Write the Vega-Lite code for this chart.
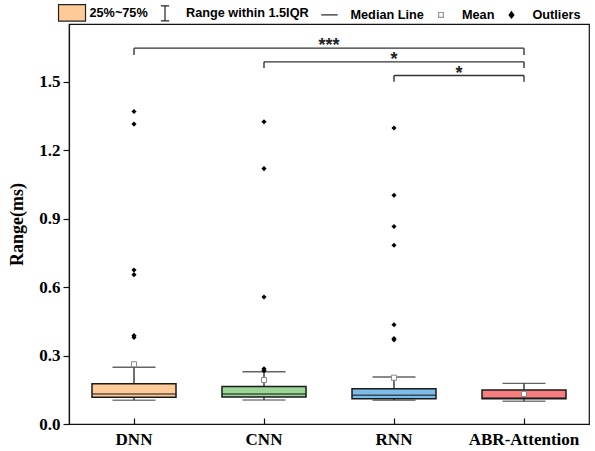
{
  "$schema": "https://vega.github.io/schema/vega-lite/v6.json",
  "autosize": "none",
  "width": 520,
  "height": 400,
  "padding": {"left": 69, "top": 24, "right": 6, "bottom": 27},
  "background": "white",
  "config": {
    "view": {"stroke": "#111", "strokeWidth": 1.2},
    "axis": {"grid": false, "domainColor": "#111", "tickColor": "#111", "labelColor": "#000", "titleColor": "#000"}
  },
  "datasets": {
    "boxes": [
      {"model": "DNN", "lo": 0.104, "q1": 0.117, "median": 0.132, "q3": 0.177, "hi": 0.249, "mean": 0.262},
      {"model": "CNN", "lo": 0.105, "q1": 0.118, "median": 0.132, "q3": 0.164, "hi": 0.229, "mean": 0.193},
      {"model": "RNN", "lo": 0.104, "q1": 0.111, "median": 0.126, "q3": 0.155, "hi": 0.206, "mean": 0.203},
      {"model": "ABR-Attention", "lo": 0.100, "q1": 0.111, "median": 0.114, "q3": 0.149, "hi": 0.178, "mean": 0.132}
    ],
    "outliers": [
      {"model": "DNN", "value": 1.370}, {"model": "DNN", "value": 1.315},
      {"model": "DNN", "value": 0.675}, {"model": "DNN", "value": 0.655},
      {"model": "DNN", "value": 0.388}, {"model": "DNN", "value": 0.380},
      {"model": "CNN", "value": 1.325}, {"model": "CNN", "value": 1.120},
      {"model": "CNN", "value": 0.557}, {"model": "CNN", "value": 0.242},
      {"model": "CNN", "value": 0.234},
      {"model": "RNN", "value": 1.298}, {"model": "RNN", "value": 1.003},
      {"model": "RNN", "value": 0.866}, {"model": "RNN", "value": 0.784},
      {"model": "RNN", "value": 0.435}, {"model": "RNN", "value": 0.375},
      {"model": "RNN", "value": 0.369}
    ],
    "brackets": [
      {"from": "DNN", "to": "ABR-Attention", "top": 1.648, "bottom": 1.618, "stars": "***", "at": "CNN", "between": true},
      {"from": "CNN", "to": "ABR-Attention", "top": 1.588, "bottom": 1.561, "stars": "*", "at": "RNN", "between": false},
      {"from": "RNN", "to": "ABR-Attention", "top": 1.528, "bottom": 1.501, "stars": "*", "at": "RNN", "between": true}
    ],
    "key": [
      {"item": "25%~75%"}, {"item": "Range within 1.5IQR"}, {"item": "Median Line"}, {"item": "Mean"}, {"item": "Outliers"}
    ]
  },
  "encoding": {
    "x": {
      "field": "model", "type": "nominal",
      "scale": {"type": "band", "domain": ["DNN", "CNN", "RNN", "ABR-Attention"], "paddingInner": 0, "paddingOuter": 0},
      "axis": {"title": null, "labelAngle": 0, "labelFont": "Liberation Serif", "labelFontWeight": "bold", "labelFontSize": 17, "tickSize": -6, "labelPadding": 13, "domainWidth": 1.2, "tickWidth": 1.2}
    }
  },
  "layer": [
    {
      "data": {"name": "boxes"},
      "mark": {"type": "rule", "color": "#222", "strokeWidth": 1.3},
      "encoding": {
        "y": {"field": "lo", "type": "quantitative",
          "scale": {"domain": [0, 1.754], "nice": false, "zero": false},
          "axis": {
            "title": "Range(ms)", "titleFont": "Liberation Serif", "titleFontWeight": "bold", "titleFontSize": 18, "titlePadding": 12,
            "values": [0, 0.15, 0.3, 0.45, 0.6, 0.75, 0.9, 1.05, 1.2, 1.35, 1.5, 1.65],
            "labelExpr": "round(datum.value / 0.15) % 2 == 0 ? format(datum.value, '.1f') : ''",
            "labelOverlap": false,
            "labelFont": "Liberation Serif", "labelFontWeight": "bold", "labelFontSize": 17, "labelPadding": 3,
            "tickSize": {"condition": {"test": "round(datum.value / 0.15) % 2 == 0", "value": 6}, "value": 3.5},
            "domainWidth": 1.2, "tickWidth": 1.2
          }},
        "y2": {"field": "hi"}
      }
    },
    {
      "data": {"name": "boxes"},
      "mark": {"type": "tick", "orient": "horizontal", "size": 43, "thickness": 1.4, "color": "#222"},
      "encoding": {"y": {"field": "hi", "type": "quantitative"}}
    },
    {
      "data": {"name": "boxes"},
      "mark": {"type": "tick", "orient": "horizontal", "size": 43, "thickness": 1.4, "color": "#444"},
      "encoding": {"y": {"field": "lo", "type": "quantitative"}}
    },
    {
      "data": {"name": "boxes"},
      "mark": {"type": "bar", "width": 84, "stroke": "#1a1a1a", "strokeWidth": 1.5, "opacity": 1},
      "encoding": {
        "y": {"field": "q1", "type": "quantitative"},
        "y2": {"field": "q3"},
        "color": {"field": "model", "type": "nominal", "legend": null,
          "scale": {"domain": ["DNN", "CNN", "RNN", "ABR-Attention"], "range": ["#fecb98", "#9bd696", "#7dbce8", "#f77e7e"]}}
      }
    },
    {
      "data": {"name": "boxes"},
      "mark": {"type": "tick", "orient": "horizontal", "size": 84, "thickness": 1.5, "color": "#1a1a1a"},
      "encoding": {"y": {"field": "median", "type": "quantitative"}}
    },
    {
      "data": {"name": "boxes"},
      "mark": {"type": "point", "shape": "square", "size": 26, "filled": false, "fill": "white", "fillOpacity": 1, "stroke": "#888", "strokeWidth": 1, "opacity": 1},
      "encoding": {"y": {"field": "mean", "type": "quantitative"}}
    },
    {
      "data": {"name": "outliers"},
      "mark": {"type": "point", "shape": "diamond", "size": 26, "filled": true, "color": "#000", "opacity": 1},
      "encoding": {"y": {"field": "value", "type": "quantitative"}}
    },
    {
      "data": {"name": "brackets"},
      "mark": {"type": "rule", "color": "#333", "strokeWidth": 1.4},
      "encoding": {
        "x": {"field": "from", "type": "nominal", "bandPosition": 0.5},
        "x2": {"field": "to", "bandPosition": 0.5},
        "y": {"field": "top", "type": "quantitative"}
      }
    },
    {
      "data": {"name": "brackets"},
      "mark": {"type": "rule", "color": "#333", "strokeWidth": 1.4},
      "encoding": {
        "x": {"field": "from", "type": "nominal", "bandPosition": 0.5},
        "y": {"field": "top", "type": "quantitative"},
        "y2": {"field": "bottom"}
      }
    },
    {
      "data": {"name": "brackets"},
      "mark": {"type": "rule", "color": "#333", "strokeWidth": 1.4},
      "encoding": {
        "x": {"field": "to", "type": "nominal", "bandPosition": 0.5},
        "y": {"field": "top", "type": "quantitative"},
        "y2": {"field": "bottom"}
      }
    },
    {
      "data": {"name": "brackets"},
      "transform": [{"filter": "datum.between"}],
      "mark": {"type": "text", "font": "Liberation Sans", "fontWeight": "bold", "fontSize": 18, "color": "#222", "baseline": "alphabetic", "align": "center", "dy": 3},
      "encoding": {
        "x": {"field": "at", "type": "nominal", "bandPosition": 1},
        "y": {"field": "top", "type": "quantitative"},
        "text": {"field": "stars"}
      }
    },
    {
      "data": {"name": "brackets"},
      "transform": [{"filter": "!datum.between"}],
      "mark": {"type": "text", "font": "Liberation Sans", "fontWeight": "bold", "fontSize": 18, "color": "#222", "baseline": "alphabetic", "align": "center", "dy": 3},
      "encoding": {
        "x": {"field": "at", "type": "nominal"},
        "y": {"field": "top", "type": "quantitative"},
        "text": {"field": "stars"}
      }
    },
    {
      "data": {"name": "key"},
      "mark": {"type": "point", "opacity": 0, "filled": true},
      "encoding": {
        "shape": {"field": "item", "type": "nominal",
          "scale": {"domain": ["25%~75%", "Range within 1.5IQR", "Median Line", "Mean", "Outliers"],
            "range": ["M-1.33,-1.1H2.27V1.1H-1.33Z", "M-0.55,-1H0.55M0,-1V1M-0.55,1H0.55", "M-1.1,0H1.1", "M-0.32,-0.32H0.32V0.32H-0.32Z", "M0,-0.42L0.32,0L0,0.42L-0.32,0Z"]},
          "legend": {
            "title": null, "orient": "none", "legendX": -9, "legendY": -20, "direction": "horizontal", "padding": 0,
            "symbolSize": 225, "symbolStrokeWidth": 1.2, "symbolOpacity": 1,
            "labelFont": "Liberation Sans", "labelFontWeight": "bold", "labelFontSize": 12.7, "labelColor": "#000",
            "labelOffset": 12.5, "columnPadding": 8.5
          }},
        "fill": {"field": "item", "type": "nominal",
          "scale": {"domain": ["25%~75%", "Range within 1.5IQR", "Median Line", "Mean", "Outliers"],
            "range": ["#fecb98", "transparent", "transparent", "white", "#000"]}},
        "stroke": {"field": "item", "type": "nominal",
          "scale": {"domain": ["25%~75%", "Range within 1.5IQR", "Median Line", "Mean", "Outliers"],
            "range": ["#222", "#222", "#222", "#999", "#000"]}}
      }
    }
  ]
}
